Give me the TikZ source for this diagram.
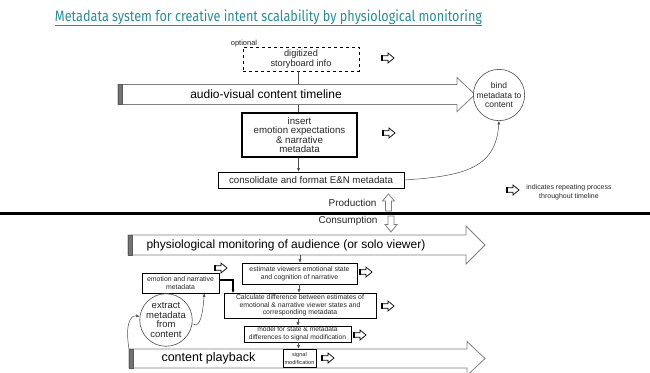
\documentclass[tikz,border=0pt]{standalone}
\usepackage{fontspec}
\setmainfont{Liberation Sans}
\newfontfamily\titlefont{Fira Sans}
\usetikzlibrary{arrows.meta,calc}
\definecolor{titleteal}{RGB}{42,140,150}
\newcommand\fsz[2]{\fontsize{#1}{#2}\selectfont}
\tikzset{
  rbox/.style={draw=black, line width=0.7pt, fill=white, align=center, inner sep=0pt, text=black!85},
  conn/.style={draw=black!70, line width=0.5pt},
  tipped/.style={-{Latex[length=3.5pt,width=3pt]}},
  bigarrow/.style={draw=black!50, line width=0.8pt, fill=white, line join=miter},
  leftbar/.style={fill=black!55, draw=black!65, line width=0.3pt},
  grayarrow/.style={draw=black!50, line width=0.8pt, fill=white, line join=miter},
  pics/rep/.style={code={
    \draw[line width=0.7pt, fill=white, line join=miter]
      (-6,-2.2) -- (0,-2.2) -- (0,-5) -- (6,0) -- (0,5) -- (0,2.2) -- (-6,2.2) -- cycle;
    \draw[line width=1.4pt] (-6,-2.6) -- (-6,2.6);
  }},
}
\begin{document}
\begin{tikzpicture}[x=1pt,y=-1pt]
\useasboundingbox (0,0) rectangle (650,372);

% ---------- title ----------
\node[font=\titlefont\fsz{15}{15}, text=titleteal, anchor=base, inner sep=0pt] (title) at (268.5,22)
  {\resizebox{427pt}{\height}{Metadata system for creative intent scalability by physiological monitoring}};
\draw[titleteal, line width=0.6pt] ($(title.base west)+(0,3.5)$) -- ($(title.base east)+(0,3.5)$);

% ---------- production side ----------
\node[font=\fsz{7.5}{7.5}, text=black!85] (opt) at (244,44) {optional};
\node[rbox, dashed, minimum width=116pt, minimum height=24pt, font=\fsz{9.2}{10}] (dig) at (301,59)
  {digitized\\storyboard info};
\node[rbox, line width=1.1pt, minimum width=115pt, minimum height=44pt, font=\fsz{9.7}{9}] (ins) at (299.5,135)
  {insert\\emotion expectations\\\& narrative\\metadata};
\node[rbox, minimum width=186pt, minimum height=16pt, font=\fsz{9.7}{10}] (cons) at (311,180)
  {consolidate and format E\&N metadata};

\draw[conn] (dig.south -| 298.5,0) -- (ins.north -| 298.5,0);

% audio-visual content timeline
\draw[bigarrow] (118,84.5) -- (457,84.5) -- (457,77.5) -- (475,94.5) -- (457,111.5) -- (457,104.5) -- (118,104.5) -- cycle;
\filldraw[leftbar] (118,84.5) rectangle (122,104.5);
\node[font=\fsz{12}{12}] (avtext) at (266,94.5) {audio-visual content timeline};

\node[circle, draw=black!70, line width=0.6pt, fill=white, minimum size=48pt, inner sep=0pt,
      align=center, font=\fsz{8.5}{9.5}, text=black!85] (bind) at (499,95) {bind\\metadata to\\content};

\draw[conn, tipped] (ins.south -| 298.5,0) -- (cons.north -| 298.5,0);
\draw[conn, tipped] (cons.east) .. controls (465,176) and (496,168) .. (bind.south);

\pic at (388,58) {rep};
\pic at (389,133) {rep};

% legend
\pic at (513,190) {rep};
\node[font=\fsz{7}{8.5}, align=center, text=black!85] (legend) at (569,192)
  {indicates repeating process\\throughout timeline};

% production / consumption divider
\node[font=\fsz{10}{10}, anchor=east, text=black!85] (prod) at (380,203) {Production};
\draw[grayarrow] (385.5,211) -- (385.5,201) -- (382.5,201) -- (388.5,194) -- (394.5,201) -- (391.5,201) -- (391.5,211) -- cycle;
\draw[black, line width=2.6pt] (0,213.5) -- (650,213.5);
\node[font=\fsz{10}{10}, anchor=east, text=black!85] (cons2) at (381,221) {Consumption};
\draw[grayarrow] (388,216) -- (394,216) -- (394,224.5) -- (397,224.5) -- (391,232) -- (385,224.5) -- (388,224.5) -- cycle;

% ---------- consumption side ----------
% physiological monitoring
\draw[bigarrow] (128,235) -- (466,235) -- (466,226) -- (485,245) -- (466,264) -- (466,255) -- (128,255) -- cycle;
\filldraw[leftbar] (128,235) rectangle (132,255);
\node[font=\fsz{12}{12}, anchor=west] (phtext) at (143,245) {physiological monitoring of audience (or solo viewer)};
\coordinate (phbot) at (300,255);

% content playback
\draw[bigarrow] (129,349) -- (467,349) -- (467,341.5) -- (485,358.5) -- (467,375.5) -- (467,368) -- (129,368) -- cycle;
\filldraw[leftbar] (129,349) rectangle (133,368);
\node[font=\fsz{12.5}{12.5}, anchor=west] (cptext) at (158,358.5) {content playback};
\coordinate (cpleft) at (129,349);

\node[rbox, line width=0.6pt, minimum width=115pt, minimum height=21pt, font=\fsz{6.9}{8}] (est) at (299.5,273.5)
  {estimate viewers emotional state\\and cognition of narrative};
\node[rbox, line width=0.6pt, minimum width=77pt, minimum height=20pt, font=\fsz{6.9}{8}] (emo) at (180.5,283)
  {emotion and narrative\\metadata};
\node[rbox, line width=0.6pt, minimum width=152pt, minimum height=25pt, font=\fsz{6.9}{7.6}] (calc) at (300,305.5)
  {Calculate difference between estimates of\\emotional \& narrative viewer states and\\corresponding metadata};
\node[rbox, line width=0.6pt, minimum width=107pt, minimum height=16pt, font=\fsz{6.7}{8.3}] (model) at (297.5,334)
  {model for state \& metadata\\differences to signal modification};
\node[rbox, line width=0.6pt, minimum width=33pt, minimum height=18pt, font=\fsz{5.6}{8}] (sig) at (299.5,358)
  {signal\\modification};
\node[circle, draw=black!70, line width=0.6pt, fill=white, minimum size=46pt, inner sep=0pt,
      align=center, font=\fsz{9.5}{9.5}, text=black!85] (ext) at (166,320) {extract\\metadata\\from\\content};

\draw[conn, tipped] (phbot) -- (est.north -| phbot);
\draw[conn, tipped] (est.south -| 299,0) -- (calc.north -| 299,0);
\draw[conn, tipped] (calc.south -| 298,0) -- (model.north -| 298,0);
\draw[conn, tipped] (model.south -| 298.5,0) -- (sig.north -| 298.5,0);
\draw[black, line width=1.1pt, -{Latex[length=3.5pt,width=3.2pt]}] (emo.east |- 0,280) -- (233,280) -- (233,293);
\draw[conn, tipped] (cpleft) .. controls (125,325) and (130,315) .. (ext.172);
\draw[conn, tipped] (ext.-8) .. controls (201,330) and (203,310) .. ([xshift=-15pt]emo.south east);

\pic at (221,268) {rep};
\pic at (366,272) {rep};
\pic at (388,306) {rep};
\pic at (360,335) {rep};
\pic at (328,358) {rep};
\end{tikzpicture}
\end{document}
